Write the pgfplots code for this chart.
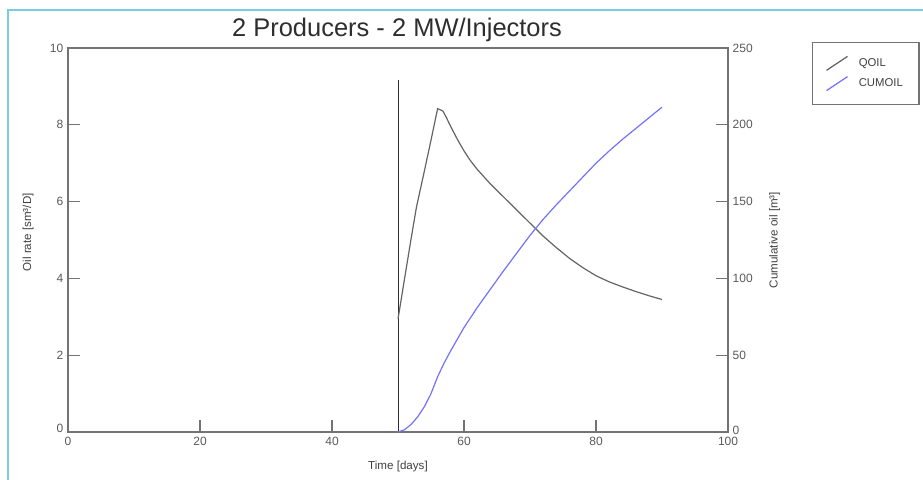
\documentclass[border=0pt]{standalone}
\usepackage{fontspec}
\setmainfont{Liberation Sans}
\usepackage{pgfplots}
\pgfplotsset{compat=1.18}

\definecolor{qoilgray}{RGB}{100,100,100}
\definecolor{markblack}{RGB}{45,45,45}
\definecolor{cumblue}{RGB}{115,115,250}
\definecolor{axisgray}{RGB}{115,115,115}
\definecolor{framecyan}{RGB}{120,205,225}

% oil rate [sm3/D] against time [days]
\pgfplotstableread{
t     q
50.0  2.95
50.2  3.15
51.0  4.00
52.0  5.05
52.8  5.86
54.0  6.80
55.0  7.60
56.0  8.42
56.8  8.36
57.3  8.20
58.0  7.95
59.0  7.62
60.0  7.32
61.0  7.06
62.0  6.84
64.0  6.46
66.0  6.12
68.0  5.78
70.0  5.44
72.0  5.10
74.0  4.80
76.0  4.52
78.0  4.28
80.0  4.07
82.0  3.91
84.0  3.78
86.0  3.66
88.0  3.55
90.0  3.45
}\qoil

% cumulative oil [m3] against time [days]
\pgfplotstableread{
t     c
50.0  0.0
51.0  1.5
52.0  5.0
53.0  10.0
54.0  16.5
55.0  25.0
56.0  36.0
57.0  45.0
58.0  53.0
59.0  60.5
60.0  68.0
62.0  81.0
64.0  93.0
66.0  105.0
68.0  116.5
70.0  128.0
72.0  138.5
74.0  148.0
76.0  157.0
78.0  166.0
80.0  175.0
82.0  183.0
84.0  190.5
86.0  197.5
88.0  204.5
90.0  211.5
}\cumoil

\pgfplotsset{
  common/.style={
    at={(0,0)}, anchor=south west,
    scale only axis, width=495pt, height=288pt,
    xmin=0, xmax=100,
    axis line style={axisgray, line width=1.1pt},
    tick style={axisgray, line width=0.9pt},
    major tick length=9pt,
    tick align=inside,
    ticklabel style={font=\fontsize{9}{10}\selectfont, text=black!65},
    /pgf/number format/assume math mode=true,
    label style={font=\fontsize{8.7}{10}\selectfont, text=black!75},
  }
}

\begin{document}
\begin{tikzpicture}
\begin{scope}[x=0.75pt,y=0.75pt]
\useasboundingbox (-68,-47) rectangle (855,432);
\draw[framecyan, line width=1.5pt] (-60,-48) -- (-60,422) -- (856,422);
\end{scope}

\begin{axis}[common,
  ymin=0, ymax=10,
  xtick={0,20,...,100}, ytick={0,2,...,10},
  yticklabels={\raisebox{5pt}{0},2,4,6,8,10},
  xtick pos=bottom, ytick pos=left,
  xlabel={Time [days]},
  ylabel={Oil rate [sm³/D]},
  xlabel style={at={(axis description cs:0.5,-0.091)}, anchor=center},
  ylabel style={at={(axis description cs:-0.0606,0.52)}, anchor=center},
  title={2 Producers - 2 MW/Injectors},
  title style={font=\fontsize{19.1}{22}\selectfont, text=black!82,
    at={(axis description cs:0.4985,1.0104)}, anchor=base},
]
\addplot[markblack, line width=0.6pt] coordinates {(50,0) (50,9.17)};
\addplot[qoilgray, line width=0.9pt] table[x=t, y=q] {\qoil};
\end{axis}

\begin{axis}[common,
  ymin=0, ymax=250,
  ytick={0,50,...,250},
  yticklabels={\raisebox{3pt}{0},50,100,150,200,250},
  axis y line*=right, axis x line=none,
  ylabel={Cumulative oil [m³]},
  ylabel style={at={(axis description cs:1.0705,0.5)}, anchor=center},
  legend image code/.code={\draw[#1] (0pt,-5.25pt) -- (15.75pt,5.25pt);},
  legend cell align=left,
  legend style={at={(axis description cs:1.127,1.0156)}, anchor=north west,
    draw=axisgray, line width=1.1pt, font=\fontsize{8.5}{10}\selectfont,
    text=black!75, inner xsep=10pt, inner ysep=9.75pt, row sep=3.75pt,
    column sep=6pt},
]
\addlegendimage{qoilgray, line width=0.9pt}
\addlegendentry{QOIL}
\addplot[cumblue, line width=0.9pt] table[x=t, y=c] {\cumoil};
\addlegendentry{CUMOIL}
\end{axis}
\end{tikzpicture}
\end{document}
